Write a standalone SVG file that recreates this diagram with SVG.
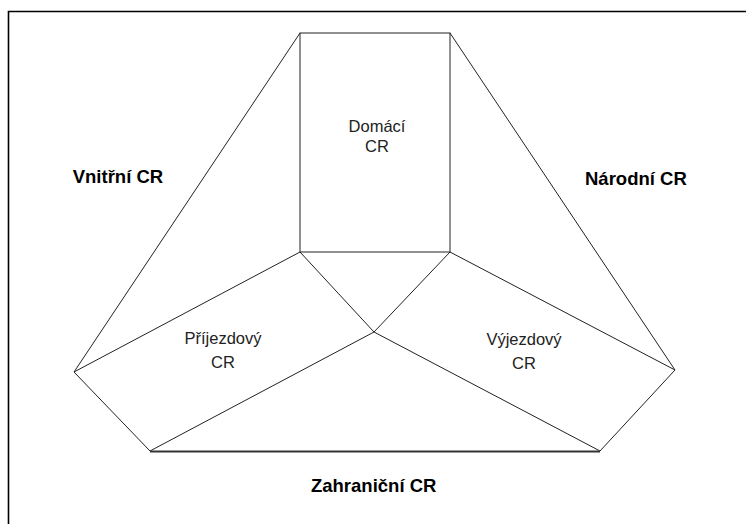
<svg xmlns="http://www.w3.org/2000/svg" width="746" height="524" viewBox="0 0 746 524">
<style>
.ln{fill:none;stroke:#222;stroke-width:1}
.bd{fill:none;stroke:#000;stroke-width:1.6}
.lb{font-family:"Liberation Sans",Arial,sans-serif;font-weight:bold;font-size:18.5px;fill:#000}
.tx{font-family:"Liberation Sans",Arial,sans-serif;font-size:16.5px;fill:#222;text-anchor:middle}
</style>
<rect width="746" height="524" fill="#fff"/>
<path class="bd" d="M8.5,524 V11.5 H746"/>
<g id="vnitrni">
<path class="ln" d="M300,33 L74,372"/>
<text class="lb" x="72.7" y="183">Vnitřní CR</text>
</g>
<g id="narodni">
<path class="ln" d="M450,33 L675,370"/>
<text class="lb" x="585" y="185">Národní CR</text>
</g>
<g id="domaci">
<rect class="ln" x="300" y="33" width="150" height="219"/>
<text class="tx" x="377" y="132">Domácí</text>
<text class="tx" x="377" y="152">CR</text>
</g>
<g id="prijezdovy">
<path class="ln" d="M300,252 L374,332 L150,451 L74,372 Z"/>
<text class="tx" x="223" y="344">Příjezdový</text>
<text class="tx" x="223" y="368">CR</text>
</g>
<g id="vyjezdovy">
<path class="ln" d="M450,252 L675,370 L600,451 L374,332 Z"/>
<text class="tx" x="524" y="345">Výjezdový</text>
<text class="tx" x="524" y="369">CR</text>
</g>
<g id="zahranicni">
<path d="M150,451.5 H600" fill="none" stroke="#333" stroke-width="2"/>
<text class="lb" x="373.7" y="492" text-anchor="middle">Zahraniční CR</text>
</g>
</svg>
